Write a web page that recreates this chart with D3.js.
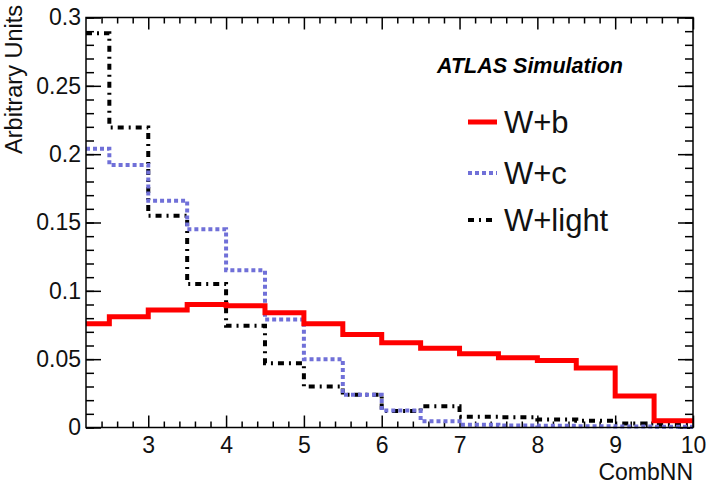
<!DOCTYPE html>
<html>
<head>
<meta charset="utf-8">
<script src="https://cdn.jsdelivr.net/npm/d3@7"></script>
<style>
  body { margin: 0; background: #fff; }
  text { font-family: "Liberation Sans", Arial, sans-serif; }
</style>
</head>
<body>
<div id="chart"></div>
<script>
// bin edges of the CombNN histograms (first bin clipped by the axis range)
const binEdges = [2.2, 2.5, 3.0, 3.5, 4.0, 4.5, 5.0, 5.5, 6.0, 6.5, 7.0, 7.5, 8.0, 8.5, 9.0, 9.5, 10.0]
const wb = [0.076, 0.081, 0.086, 0.090, 0.089, 0.084, 0.076, 0.068, 0.062, 0.058, 0.054, 0.051, 0.049, 0.0435, 0.023, 0.005]
const wc = [0.204, 0.192, 0.166, 0.145, 0.115, 0.079, 0.050, 0.024, 0.0125, 0.0046, 0.002, 0.0015, 0.0012, 0.001, 0.0008, 0.0006]
const wl = [0.2885, 0.2195, 0.155, 0.105, 0.0745, 0.047, 0.030, 0.024, 0.012, 0.0155, 0.0078, 0.0075, 0.0058, 0.005, 0.003, 0.002]
const xMajor = [3, 4, 5, 6, 7, 8, 9, 10]
const yMajor = [0, 0.05, 0.1, 0.15, 0.2, 0.25, 0.3]

const width = 708, height = 490
const padL = 86, padR = 693, padT = 17.5, padB = 427.5

const x = d3.scaleLinear().domain([2.2, 10]).range([padL, padR])
const y = d3.scaleLinear().domain([0, 0.3]).range([padB, padT])

const svg = d3.select("#chart").append("svg")
  .attr("width", width)
  .attr("height", height)

const xMinor = d3.range(12, 51).map(d => d / 5).filter(d => !xMajor.includes(d))
const yMinor = d3.range(0, 31).map(d => d / 100)

const tickFmt = d => d === 0 ? "0" : String(+d.toFixed(2))

function styleAxis(g) {
  g.select(".domain").remove()
  g.selectAll("line").attr("stroke", "#000").attr("stroke-width", 1.5)
  g.selectAll("text").attr("font-size", 23).attr("fill", "#111")
}

// bottom axis
svg.append("g").attr("transform", `translate(0,${padB})`)
  .call(d3.axisBottom(x).tickValues(xMinor).tickSize(-6).tickFormat(""))
  .call(styleAxis)
svg.append("g").attr("transform", `translate(0,${padB})`)
  .call(d3.axisBottom(x).tickValues(xMajor).tickSize(-12).tickPadding(6).tickFormat(d3.format("d")))
  .call(styleAxis)
  .call(g => g.selectAll("text").attr("dy", "0.85em"))
// top axis
svg.append("g").attr("transform", `translate(0,${padT})`)
  .call(d3.axisTop(x).tickValues(xMinor).tickSize(-6).tickFormat(""))
  .call(styleAxis)
svg.append("g").attr("transform", `translate(0,${padT})`)
  .call(d3.axisTop(x).tickValues(xMajor).tickSize(-12).tickFormat(""))
  .call(styleAxis)
// left axis
svg.append("g").attr("transform", `translate(${padL},0)`)
  .call(d3.axisLeft(y).tickValues(yMinor).tickSize(-8).tickFormat(""))
  .call(styleAxis)
svg.append("g").attr("transform", `translate(${padL},0)`)
  .call(d3.axisLeft(y).tickValues(yMajor).tickSize(-15).tickPadding(5).tickFormat(tickFmt))
  .call(styleAxis)
// right axis
svg.append("g").attr("transform", `translate(${padR},0)`)
  .call(d3.axisRight(y).tickValues(yMinor).tickSize(-8).tickFormat(""))
  .call(styleAxis)
svg.append("g").attr("transform", `translate(${padR},0)`)
  .call(d3.axisRight(y).tickValues(yMajor).tickSize(-15).tickFormat(""))
  .call(styleAxis)

// histograms
const stepLine = d3.line()
  .x(d => x(d[0]))
  .y(d => y(d[1]))
  .curve(d3.curveStepAfter)

const toPoints = vals => binEdges.map((e, i) => [e, vals[Math.min(i, vals.length - 1)]])

const series = [
  { name: "W+light", values: wl, color: "#000", width: 4, dash: "6 5 2 5" },
  { name: "W+c", values: wc, color: "#7070d8", width: 4, dash: "4 3" },
  { name: "W+b", values: wb, color: "#ff0000", width: 5, dash: null }
]

series.forEach(s => {
  svg.append("path")
    .attr("d", stepLine(toPoints(s.values)))
    .attr("fill", "none")
    .attr("stroke", s.color)
    .attr("stroke-width", s.width)
    .attr("stroke-dasharray", s.dash)
})

// frame
svg.append("rect")
  .attr("x", padL).attr("y", padT)
  .attr("width", padR - padL).attr("height", padB - padT)
  .attr("fill", "none").attr("stroke", "#000").attr("stroke-width", 1.5)

// axis titles
svg.append("text")
  .attr("x", padR).attr("y", 480)
  .attr("text-anchor", "end")
  .attr("font-size", 23)
  .attr("fill", "#111")
  .text("CombNN")
svg.append("text")
  .attr("transform", "translate(21.5,5) rotate(-90)")
  .attr("text-anchor", "end")
  .attr("font-size", 23.5)
  .attr("fill", "#111")
  .text("Arbitrary Units")

// ATLAS label
svg.append("text")
  .attr("x", 437).attr("y", 73)
  .attr("font-size", 21.5)
  .attr("font-weight", "bold")
  .attr("font-style", "italic")
  .text("ATLAS Simulation")

// legend
const legendRows = [
  { name: "W+b", s: series[2], y: 122 },
  { name: "W+c", s: series[1], y: 173 },
  { name: "W+light", s: series[0], y: 220 }
]
const legend = svg.append("g")
legendRows.forEach(r => {
  legend.append("line")
    .attr("x1", 468).attr("x2", 497)
    .attr("y1", r.y).attr("y2", r.y)
    .attr("stroke", r.s.color)
    .attr("stroke-width", r.s.width)
    .attr("stroke-dasharray", r.s.dash)
  legend.append("text")
    .attr("x", 504).attr("y", r.y + 11)
    .attr("font-size", 31)
    .attr("fill", "#111")
    .text(r.name)
})
</script>
</body>
</html>
